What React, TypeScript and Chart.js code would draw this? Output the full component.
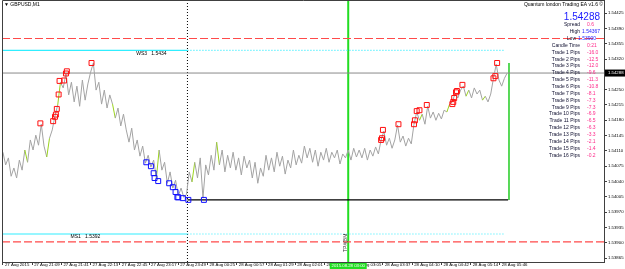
import React, { useEffect, useRef } from 'react';
import { Chart, registerables } from 'chart.js';

Chart.register(...registerables);

// ---------- data ----------
const symbolTitle = '\u25BC GBPUSD,M1';
const eaTitle = 'Quantum london Trading EA v1.6 \u00A9';
const BAR_STEP = 3; // minutes between sampled closes (M1 chart)

const closes = [
  1.54107, 1.54078, 1.54094, 1.54052, 1.54071, 1.54048, 1.54089, 1.54066, 1.54112, 1.54084,
  1.54135, 1.54112, 1.54146, 1.54123, 1.54171, 1.54121, 1.54096, 1.54139, 1.54158, 1.54190,
  1.54215, 1.54267, 1.54254, 1.54286, 1.54238, 1.54267, 1.54222, 1.54258, 1.54212, 1.54272,
  1.54226, 1.54263, 1.54290, 1.54311, 1.54249, 1.54267, 1.54217, 1.54249, 1.54208, 1.54238,
  1.54217, 1.54185, 1.54208, 1.54167, 1.54194, 1.54158, 1.54130, 1.54162, 1.54112, 1.54135,
  1.54098, 1.54121, 1.54082, 1.54100, 1.54073, 1.54089, 1.54048, 1.54112, 1.54066, 1.54084,
  1.54036, 1.54062, 1.54025, 1.54043, 1.54007, 1.54025, 1.54004, 1.54011, 1.54062, 1.54039,
  1.54084, 1.54048, 1.54094, 1.54002, 1.54078, 1.54055, 1.54100, 1.54066, 1.54130, 1.54078,
  1.54112, 1.54062, 1.54100, 1.54071, 1.54107, 1.54066, 1.54094, 1.54055, 1.54098, 1.54071,
  1.54089, 1.54048, 1.54084, 1.54036, 1.54071, 1.54052, 1.54100, 1.54066, 1.54094, 1.54062,
  1.54107, 1.54075, 1.54098, 1.54057, 1.54089, 1.54071, 1.54112, 1.54078, 1.54100, 1.54082,
  1.54121, 1.54094, 1.54116, 1.54084, 1.54112, 1.54075, 1.54107, 1.54089, 1.54116, 1.54084,
  1.54107, 1.54094, 1.54112, 1.54080, 1.54103, 1.54094, 1.54112, 1.54089, 1.54116, 1.54096,
  1.54112, 1.54094, 1.54116, 1.54089, 1.54112, 1.54098, 1.54119, 1.54103, 1.54135, 1.54155,
  1.54123, 1.54139, 1.54116, 1.54135, 1.54169, 1.54130, 1.54144, 1.54121, 1.54139, 1.54126,
  1.54171, 1.54199, 1.54180, 1.54194, 1.54171, 1.54212, 1.54185, 1.54199, 1.54180, 1.54196,
  1.54183, 1.54203, 1.54199, 1.54217, 1.54222, 1.54242, 1.54231, 1.54249, 1.54258, 1.54235,
  1.54249, 1.54231, 1.54254, 1.54240, 1.54249, 1.54226, 1.54235, 1.54222, 1.54240, 1.54276,
  1.54308, 1.54272, 1.54258, 1.54276, 1.54288,
];

// indices of segments drawn in light green (bullish highlights)
const greenSegments = [8, 16, 20, 40, 56, 69, 78, 152, 162, 169, 175];

const buyBars = [41, 55, 57, 58, 59, 61, 62, 67, 69, 70, 97, 414, 415, 416, 433, 450, 451, 453, 456, 464, 492, 493, 494, 496, 497, 503, 537, 539, 541];
const buyPrices = [1.54173, 1.54178, 1.54188, 1.54193, 1.54206, 1.54239, 1.54270, 1.54271, 1.54287, 1.54292, 1.54311, 1.54135, 1.54139, 1.54158, 1.54171, 1.54171, 1.54180, 1.54201, 1.54203, 1.54215, 1.54217, 1.54222, 1.54231, 1.54244, 1.54247, 1.54261, 1.54276, 1.54281, 1.54311];

const sellBars = [157, 162, 165, 166, 170, 182, 186, 189, 191, 192, 197, 203, 220];
const sellPrices = [1.54084, 1.54075, 1.54059, 1.54048, 1.54041, 1.54036, 1.54027, 1.54016, 1.54004, 1.54004, 1.54002, 1.53998, 1.53998];

const timeTickBars = [0, 32, 64, 96, 128, 160, 192, 224, 256, 288, 320, 352, 384, 416, 448, 480, 512, 544];
const timeTickLabels = [
  '27 Aug 2015', '27 Aug 21:09', '27 Aug 21:41', '27 Aug 22:13', '27 Aug 22:45', '27 Aug 23:17',
  '27 Aug 23:49', '28 Aug 00:25', '28 Aug 00:57', '28 Aug 01:29', '28 Aug 02:01', '28 Aug 02:33',
  '28 Aug 03:05', '28 Aug 03:37', '28 Aug 04:10', '28 Aug 04:42', '28 Aug 05:14', '28 Aug 05:46',
];
const priceTicks = [
  1.53865, 1.539, 1.53935, 1.5397, 1.54005, 1.5404, 1.54075, 1.5411, 1.54145,
  1.5418, 1.54215, 1.5425, 1.54285, 1.5432, 1.54355, 1.5439, 1.54425,
];

const X_MIN = -1;
const X_MAX = 658;
const Y_MIN = 1.53856;
const Y_MAX = 1.54455;

const highPrice = 1.54367;
const lowPrice = 1.53902;
const ws3Level = 1.5434;
const ms1Level = 1.5392;
const bidPrice = 1.54288;
const floorLevel = 1.53998;
const pivotBar = 202;
const levelEndBar = 550;
const floorEndBar = 553;
const tpBar = 378;
const nowBar = 554;
const nowTop = 1.54311;
const ws3LabelBar = 146;
const ms1LabelBar = 74;

const panelLabels = ['Spread', 'High', 'Low', 'Candle Time',
  'Trade 1 Pips', 'Trade 2 Pips', 'Trade 3 Pips', 'Trade 4 Pips', 'Trade 5 Pips', 'Trade 6 Pips',
  'Trade 7 Pips', 'Trade 8 Pips', 'Trade 9 Pips', 'Trade 10 Pips', 'Trade 11 Pips', 'Trade 12 Pips',
  'Trade 13 Pips', 'Trade 14 Pips', 'Trade 15 Pips', 'Trade 16 Pips'];
const panelValues = ['0.6', '1.54367', '1.53900', '0:21',
  '-16.0', '-12.5', '-12.0', '-9.6', '-11.3', '-10.8', '-8.1', '-7.3', '-7.3', '-6.9',
  '-6.5', '-6.3', '-3.3', '-2.1', '-1.4', '-0.2'];

// ---------- styles ----------
const FONT = "'Liberation Sans', Arial, sans-serif";
const FRAME = '#404040';
const PINK = '#ff2a8a';

const hline = (y0: number, xa: number, xb: number) => [{ x: xa, y: y0 }, { x: xb, y: y0 }];
const vline = (x0: number, ya: number, yb: number) => [{ x: x0, y: ya }, { x: x0, y: yb }];

const overlayPlugin = {
  id: 'mt4overlay',
  afterDraw(chart: any) {
    const { ctx, chartArea: a, scales } = chart;
    const xs = scales.x;
    const ys = scales.y;
    ctx.save();
    // frame (left + top)
    ctx.strokeStyle = FRAME;
    ctx.lineWidth = 1;
    ctx.beginPath();
    ctx.moveTo(a.left + 0.5, a.bottom);
    ctx.lineTo(a.left + 0.5, a.top + 0.5);
    ctx.lineTo(a.right, a.top + 0.5);
    ctx.stroke();

    ctx.textBaseline = 'middle';
    // symbol title
    ctx.fillStyle = '#000';
    ctx.font = `5px ${FONT}`;
    ctx.textAlign = 'left';
    ctx.fillText(symbolTitle, a.left + 2, 5);
    // EA title
    ctx.textAlign = 'right';
    ctx.fillText(eaTitle, a.right - 1, 5);
    // big bid
    ctx.fillStyle = '#1a1aff';
    ctx.font = `10px ${FONT}`;
    ctx.fillText(bidPrice.toFixed(5), a.right - 4, 17);

    // panel
    ctx.font = `5px ${FONT}`;
    for (let i = 0; i < panelLabels.length; i++) {
      const yy = 25 + i * 6.85;
      ctx.textAlign = 'right';
      ctx.fillStyle = '#101030';
      const lx = panelLabels[i] === 'Low' ? 576 : 580;
      ctx.fillText(panelLabels[i], lx, yy);
      ctx.textAlign = 'left';
      const isPrice = i === 1 || i === 2;
      ctx.fillStyle = isPrice ? '#1a1aff' : PINK;
      const vx = i === 1 ? 582 : i === 2 ? 578 : 587;
      ctx.fillText(panelValues[i], vx, yy);
    }

    // level labels
    ctx.fillStyle = '#000';
    ctx.textAlign = 'left';
    ctx.fillText('WS3   ' + ws3Level.toFixed(4), xs.getPixelForValue(ws3LabelBar), ys.getPixelForValue(ws3Level) + 3);
    ctx.fillText('MS1   ' + ms1Level.toFixed(4), xs.getPixelForValue(ms1LabelBar), ys.getPixelForValue(ms1Level) + 3);

    // TP vertical text
    const tx = xs.getPixelForValue(tpBar);
    ctx.save();
    ctx.translate(tx - 2.5, a.bottom - 10);
    ctx.rotate(-Math.PI / 2);
    ctx.textAlign = 'left';
    ctx.fillStyle = '#333';
    ctx.fillText('TP#(BM', 0, 0);
    ctx.restore();

    // bid box on price axis
    const by = ys.getPixelForValue(bidPrice);
    ctx.fillStyle = '#000';
    ctx.fillRect(a.right + 1, by - 3.5, 625 - a.right - 1, 7);
    ctx.fillStyle = '#fff';
    ctx.textAlign = 'left';
    ctx.font = `4.3px ${FONT}`;
    ctx.fillText(bidPrice.toFixed(5), a.right + 4, by);

    // time box for the TP line
    ctx.fillStyle = '#22dd22';
    ctx.fillRect(tx - 18.5, a.bottom + 1, 37, 269 - a.bottom - 1);
    ctx.fillStyle = '#fff';
    ctx.textAlign = 'center';
    ctx.fillText('2015.08.28 03:00', tx, a.bottom + 4);
    ctx.restore();
  },
};

export default function App() {
  const ref = useRef<HTMLCanvasElement>(null);
  useEffect(() => {
    const canvas = ref.current;
    if (!canvas) return;
    const priceData = closes.map((c, i) => ({ x: i * BAR_STEP, y: c }));
    const chart = new Chart(canvas, {
      type: 'line',
      data: {
        datasets: [
          {
            label: 'sell', data: sellBars.map((b, i) => ({ x: b, y: sellPrices[i] })), showLine: false,
            pointStyle: 'rect', pointRadius: 3.5, pointBorderWidth: 1, pointBorderColor: '#1010ff',
            pointBackgroundColor: 'rgba(255,255,255,0)', order: 0,
          },
          {
            label: 'buy', data: buyBars.map((b, i) => ({ x: b, y: buyPrices[i] })), showLine: false,
            pointStyle: 'rect', pointRadius: 3.5, pointBorderWidth: 1, pointBorderColor: '#ff1010',
            pointBackgroundColor: 'rgba(255,255,255,0)', order: 0,
          },
          {
            label: 'price', data: priceData, borderColor: '#a3a3a3', borderWidth: 1, pointRadius: 0,
            tension: 0, order: 1,
            segment: { borderColor: (c: any) => (greenSegments.includes(c.p0DataIndex) ? '#9ad31e' : undefined) },
          },
          { label: 'high', data: hline(highPrice, X_MIN, X_MAX), borderColor: '#ff4a4a', borderWidth: 1.2, borderDash: [8, 3], pointRadius: 0, order: 2 },
          { label: 'low', data: hline(lowPrice, X_MIN, X_MAX), borderColor: '#ff4a4a', borderWidth: 1.2, borderDash: [8, 3], pointRadius: 0, order: 2 },
          { label: 'ws3a', data: hline(ws3Level, X_MIN, pivotBar), borderColor: '#30eeff', borderWidth: 1.2, pointRadius: 0, order: 2 },
          { label: 'ws3b', data: hline(ws3Level, pivotBar, levelEndBar), borderColor: '#30eeff', borderWidth: 1.2, borderDash: [1, 2], pointRadius: 0, order: 2 },
          { label: 'ms1a', data: hline(ms1Level, X_MIN, pivotBar), borderColor: '#30eeff', borderWidth: 1.2, pointRadius: 0, order: 2 },
          { label: 'ms1b', data: hline(ms1Level, pivotBar, levelEndBar), borderColor: '#30eeff', borderWidth: 1.2, borderDash: [1, 2], pointRadius: 0, order: 2 },
          { label: 'bid', data: hline(bidPrice, X_MIN, X_MAX), borderColor: '#8a8a8a', borderWidth: 1, pointRadius: 0, order: 2 },
          { label: 'floor', data: hline(floorLevel, pivotBar, floorEndBar), borderColor: '#000', borderWidth: 1.3, pointRadius: 0, order: 2 },
          { label: 'pivot', data: vline(pivotBar, Y_MIN, Y_MAX), borderColor: '#000', borderWidth: 1, borderDash: [1, 2], pointRadius: 0, order: 2 },
          { label: 'tp', data: vline(tpBar, Y_MIN, Y_MAX), borderColor: '#22dd22', borderWidth: 2, pointRadius: 0, order: 2 },
          { label: 'now', data: vline(nowBar, floorLevel, nowTop), borderColor: '#22cc22', borderWidth: 1.5, pointRadius: 0, order: 2 },
        ],
      },
      options: {
        animation: false,
        responsive: false,
        events: [],
        layout: { autoPadding: false, padding: { left: 2, right: 0, top: 0, bottom: 0 } },
        plugins: { legend: { display: false }, tooltip: { enabled: false } },
        scales: {
          x: {
            type: 'linear', min: X_MIN, max: X_MAX,
            afterBuildTicks: (s: any) => { s.ticks = timeTickBars.map((v) => ({ value: v })); },
            afterFit: (s: any) => { s.height = 7; s.paddingLeft = 0; s.paddingRight = 0; },
            ticks: {
              autoSkip: false, maxRotation: 0, minRotation: 0, align: 'start', labelOffset: 2,
              padding: -3.2, color: '#000', font: { family: FONT, size: 4.3 },
              callback: (_v: any, i: number) => timeTickLabels[i],
            },
            grid: { drawOnChartArea: false, drawTicks: true, tickLength: 3, color: FRAME },
            border: { display: true, color: FRAME },
          },
          y: {
            type: 'linear', position: 'right', min: Y_MIN, max: Y_MAX,
            afterBuildTicks: (s: any) => { s.ticks = priceTicks.map((v) => ({ value: v })); },
            afterFit: (s: any) => { s.width = 21; s.paddingTop = 0; s.paddingBottom = 0; },
            ticks: {
              autoSkip: false, padding: 1, color: '#000', font: { family: FONT, size: 4.3 },
              callback: (v: any) => Number(v).toFixed(5),
            },
            grid: { drawOnChartArea: false, drawTicks: true, tickLength: 3, color: FRAME },
            border: { display: true, color: FRAME },
          },
        },
      } as any,
      plugins: [overlayPlugin],
    });
    return () => chart.destroy();
  }, []);
  return (
    <div style={{ position: 'fixed', left: 0, top: 0, width: 625, height: 269, background: '#fff' }}>
      <canvas ref={ref} width={625} height={269} style={{ display: 'block', width: 625, height: 269 }} />
    </div>
  );
}
